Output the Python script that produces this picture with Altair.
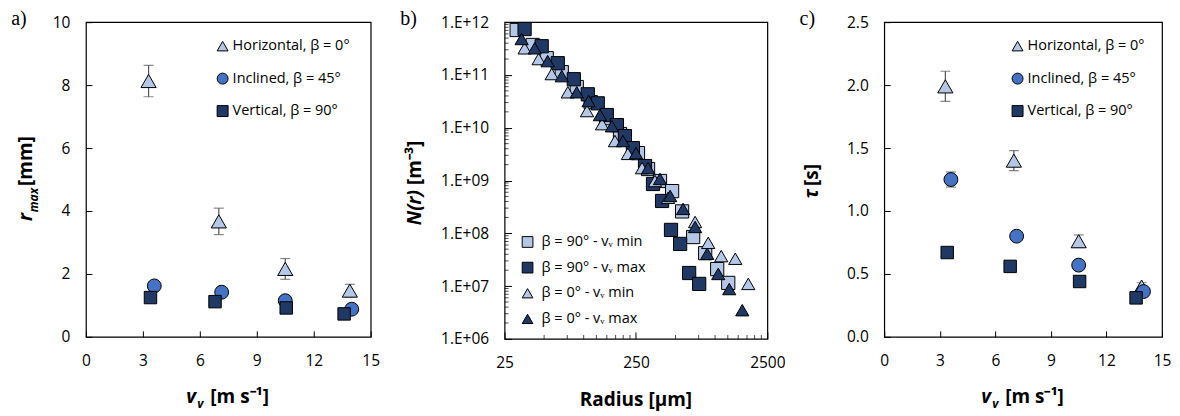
import altair as alt
import pandas as pd

FONT = "Open Sans"
SERIF = "Liberation Serif"

# ---------------- panels a) and c) ----------------
series_ac = ["Horizontal, β = 0°", "Inclined, β = 45°", "Vertical, β = 90°"]
fill_ac = ["#b4c7e7", "#4472c4", "#1f3864"]
shape_ac = ["triangle-up", "circle", "square"]
size_ac = [230, 155, 155]

vv_horizontal = [3.3, 7.0, 10.5, 13.9]
vv_inclined = [3.6, 7.15, 10.5, 14.0]
vv_vertical = [3.4, 6.8, 10.55, 13.6]

rmax_horizontal = [8.13, 3.67, 2.16, 1.47]
rmax_horizontal_err = [0.50, 0.42, 0.33, 0.20]
rmax_inclined = [1.62, 1.42, 1.15, 0.88]
rmax_inclined_err = [0.04, 0.04, 0.04, 0.04]
rmax_vertical = [1.25, 1.12, 0.92, 0.73]
rmax_vertical_err = [0.03, 0.03, 0.03, 0.03]

tau_horizontal = [1.99, 1.40, 0.76, 0.40]
tau_horizontal_err = [0.12, 0.08, 0.05, 0.03]
tau_inclined = [1.25, 0.80, 0.57, 0.36]
tau_inclined_err = [0.06, 0.02, 0.02, 0.02]
tau_vertical = [0.67, 0.56, 0.44, 0.31]
tau_vertical_err = [0.01, 0.01, 0.01, 0.01]

vv_ticks = [0, 3, 6, 9, 12, 15]
rmax_ticks = [0, 2, 4, 6, 8, 10]
tau_ticks = [0.0, 0.5, 1.0, 1.5, 2.0, 2.5]

# ---------------- panel b) ----------------
series_b = ["β = 90° - vᵥ min", "β = 90° - vᵥ max", "β = 0° - vᵥ min", "β = 0° - vᵥ max"]
fill_b = ["#b4c7e7", "#1f3864", "#b4c7e7", "#1f3864"]
shape_b = ["square", "square", "triangle-up", "triangle-up"]
size_b = [175, 175, 235, 235]

radius_90_min = [30.9, 40.9, 52.3, 68.1, 88.6, 113, 148, 189, 259, 309, 381, 471, 561, 681, 841, 1038, 1260]
n_90_min = [7.1e11, 3.7e11, 2.08e11, 1.13e11, 5.9e10, 3.06e10, 1.52e10, 7.6e9, 3.3e9, 1.65e9, 9.8e8,
            6.3e8, 2.6e8, 8.5e7, 4.2e7, 2.1e7, 1.15e7]
radius_90_max = [35.5, 47.9, 63.5, 84.1, 107.5, 128, 150, 179, 206, 237, 293, 337, 395, 462, 542, 635, 757]
n_90_max = [7.4e11, 3.5e11, 1.67e11, 8.3e10, 4.3e10, 2.9e10, 1.74e10, 1.12e10, 6.95e9, 4.1e9, 1.88e9,
            8.6e8, 4.1e8, 1.16e8, 6.3e7, 1.77e7, 1.1e7]
radius_0_min = [35.5, 45.4, 57.1, 75.7, 106, 138, 173, 217, 278, 349, 439, 705, 887, 1114, 1425, 1790]
n_0_min = [3.2e11, 2.0e11, 1.04e11, 4.7e10, 2.07e10, 1.17e10, 5.6e9, 3.2e9, 1.72e9, 9.8e8, 4.7e8,
           1.64e8, 6.6e7, 3.7e7, 3.3e7, 1.1e7]
radius_0_max = [33.7, 42.4, 53.2, 68.1, 88.6, 109, 133, 164, 199, 250, 309, 381, 455, 571, 705, 871,
                1057, 1282, 1611]
n_0_max = [4.8e11, 3.2e11, 1.83e11, 9.5e10, 4.7e10, 3.2e10, 1.74e10, 1.07e10, 5.6e9, 3.3e9, 1.72e9,
           1.07e9, 5.1e8, 2.9e8, 1.32e8, 4.1e7, 1.7e7, 8.8e6, 3.5e6]

radius_ticks = [25, 250, 2500]
radius_minor_ticks = [50, 75, 100, 125, 150, 175, 200, 225, 500, 750, 1000, 1250, 1500, 1750, 2000, 2250]
n_ticks = [1e6, 1e7, 1e8, 1e9, 1e10, 1e11, 1e12]
n_minor_mult = [2, 3, 4, 5, 6, 7, 8, 9]
n_minor_ticks = [m * d for d in n_ticks[:-1] for m in n_minor_mult]


# ---------------- helpers ----------------
def frame_ac(vals, errs):
    rows = []
    xs = [vv_horizontal, vv_inclined, vv_vertical]
    for s, x, v, e in zip(series_ac, xs, vals, errs):
        for xi, vi, ei in zip(x, v, e):
            rows.append({"series": s, "vv": xi, "val": vi, "lo": vi - ei, "hi": vi + ei})
    return pd.DataFrame(rows)


def label(text, x, y, size=19, weight="bold", style="normal", angle=0, align="center",
          baseline="alphabetic", font=FONT):
    return alt.Chart(pd.DataFrame({"t": [text]})).mark_text(
        font=font, fontSize=size, fontWeight=weight, fontStyle=style, angle=angle,
        align=align, baseline=baseline, color="black"
    ).encode(x=alt.value(x), y=alt.value(y), text="t:N")


def axis(values, pad, tick=6, fmt=None, expr=None):
    kw = dict(values=values, title=None, grid=False, domain=False, ticks=True, tickSize=tick,
              offset=-tick, labelPadding=pad, labelFont=FONT, labelFontSize=15.5,
              labelColor="black", tickColor="black", tickWidth=1, labelFlush=False,
              labelOverlap=False)
    if fmt:
        kw["format"] = fmt
    if expr:
        kw["labelExpr"] = expr
    return alt.Axis(**kw)


def manual_legend(series, fills, shapes, sym_x, y_first, y_last, label_x, sym_size=120):
    df = pd.DataFrame({"series": series})
    ysc = alt.Scale(domain=series, range=[y_first, y_last], padding=0)
    sym = alt.Chart(df).mark_point(filled=True, stroke="black", strokeWidth=1, opacity=1,
                                   size=sym_size).encode(
        x=alt.value(sym_x),
        y=alt.Y("series:N", scale=ysc, axis=None),
        fill=alt.Fill("series:N", scale=alt.Scale(domain=series, range=fills), legend=None),
        shape=alt.Shape("series:N", scale=alt.Scale(domain=series, range=shapes), legend=None),
    )
    txt = alt.Chart(df).mark_text(align="left", baseline="middle", font=FONT, fontSize=14.5,
                                  color="black").encode(
        x=alt.value(label_x),
        y=alt.Y("series:N", scale=ysc, axis=None),
        text="series:N",
    )
    return alt.layer(sym, txt)


def panel_ac(df, ydom, yticks, yfmt, w, h, tag, tag_x, ytitle_pieces):
    xsc = alt.Scale(domain=[0, 15], nice=False, zero=False)
    ysc = alt.Scale(domain=ydom, nice=False, zero=False)
    xax = axis(vv_ticks, 17)
    yax = axis(yticks, 16, fmt=yfmt)
    err = alt.Chart(df).mark_errorbar(ticks=True, size=10, thickness=1.2, color="#555555").encode(
        x=alt.X("vv:Q", scale=xsc, axis=xax),
        y=alt.Y("lo:Q", scale=ysc, axis=yax),
        y2="hi:Q",
    )
    pts = alt.Chart(df).mark_point(filled=True, stroke="black", strokeWidth=1, opacity=1).encode(
        x=alt.X("vv:Q", scale=xsc, axis=xax),
        y=alt.Y("val:Q", scale=ysc, axis=yax),
        fill=alt.Fill("series:N", scale=alt.Scale(domain=series_ac, range=fill_ac), legend=None),
        shape=alt.Shape("series:N", scale=alt.Scale(domain=series_ac, range=shape_ac), legend=None),
        size=alt.Size("series:N", scale=alt.Scale(domain=series_ac, range=size_ac), legend=None),
    )
    cx = w / 2
    texts = [
        label(tag, tag_x, -3, size=20, weight="normal", font=SERIF, baseline="middle"),
        label("v", cx - 42, h + 66, style="italic", align="left"),
        label("v", cx - 31, h + 71, size=12, style="italic", align="left"),
        label("[m s⁻¹]", cx - 18, h + 66, align="left"),
    ] + ytitle_pieces
    data_layer = alt.layer(err, pts, *texts)
    leg = manual_legend(series_ac, fill_ac, shape_ac, 0.48 * w, 24, 89, 0.48 * w + 10)
    return alt.layer(data_layer, leg).resolve_scale(
        y="independent", fill="independent", shape="independent"
    ).properties(width=w, height=h)


# ---------------- panel a ----------------
df_a = frame_ac([rmax_horizontal, rmax_inclined, rmax_vertical],
                [rmax_horizontal_err, rmax_inclined_err, rmax_vertical_err])
panel_a = panel_ac(
    df_a, [0, 10], rmax_ticks, "d", 285, 315, "a)", -67,
    [
        label("[mm]", -60, 164, angle=270, align="left", baseline="middle"),
        label("max", -52, 166, size=12, style="italic", angle=270, align="right", baseline="middle"),
        label("r", -60, 191, style="italic", angle=270, align="right", baseline="middle"),
    ],
)

# ---------------- panel c ----------------
df_c = frame_ac([tau_horizontal, tau_inclined, tau_vertical],
                [tau_horizontal_err, tau_inclined_err, tau_vertical_err])
panel_c = panel_ac(
    df_c, [0, 2.5], tau_ticks, ".1f", 278, 315, "c)", -77,
    [
        label("[s]", -72, 164, angle=270, align="left", baseline="middle"),
        label("τ", -72, 167, style="italic", angle=270, align="right", baseline="middle"),
    ],
)

# ---------------- panel b ----------------
rows_b = []
for s, rs, ns in zip(series_b, [radius_90_min, radius_90_max, radius_0_min, radius_0_max],
                     [n_90_min, n_90_max, n_0_min, n_0_max]):
    for r, n in zip(rs, ns):
        rows_b.append({"series": s, "radius": r, "N": n})
df_b = pd.DataFrame(rows_b)

wb, hb = 263, 317
xsc_b = alt.Scale(type="log", domain=[25, 2500], nice=False)
ysc_b = alt.Scale(type="log", domain=[1e6, 1e12], nice=False)
y_expr = ("'1.E+' + (round(log(datum.value)/LN10) < 10 ? '0' : '') + "
          "round(log(datum.value)/LN10)")
yax_b = axis(n_ticks, 16, tick=7, expr=y_expr)
xax_b = axis(radius_ticks, 17, tick=7, fmt="d")
pts_b = alt.Chart(df_b).mark_point(filled=True, stroke="black", strokeWidth=1, opacity=1).encode(
    x=alt.X("radius:Q", scale=xsc_b, axis=xax_b),
    y=alt.Y("N:Q", scale=ysc_b, axis=yax_b),
    fill=alt.Fill("series:N", scale=alt.Scale(domain=series_b, range=fill_b), legend=None),
    shape=alt.Shape("series:N", scale=alt.Scale(domain=series_b, range=shape_b), legend=None),
    size=alt.Size("series:N", scale=alt.Scale(domain=series_b, range=size_b), legend=None),
)
minor_y = alt.Chart(pd.DataFrame({"v": n_minor_ticks})).mark_tick(
    orient="horizontal", color="black", thickness=1, size=4
).encode(y=alt.Y("v:Q", scale=ysc_b, axis=yax_b), x=alt.value(2))
minor_x = alt.Chart(pd.DataFrame({"v": radius_minor_ticks})).mark_tick(
    orient="vertical", color="black", thickness=1, size=4
).encode(x=alt.X("v:Q", scale=xsc_b, axis=xax_b), y=alt.value(hb - 2))

data_b = alt.layer(
    minor_y, minor_x, pts_b,
    label("b)", -96, -3, size=20, weight="normal", font=SERIF, baseline="middle"),
    label("[m⁻³]", -90, 163, angle=270, align="left", baseline="middle"),
    label("N(r)", -90, 168, style="italic", angle=270, align="right", baseline="middle"),
    label("Radius [µm]", wb / 2, hb + 67),
)
leg_b = manual_legend(series_b, fill_b, shape_b, 23, 220, 297, 37, sym_size=115)
panel_b = alt.layer(data_b, leg_b).resolve_scale(
    y="independent", fill="independent", shape="independent"
).properties(width=wb, height=hb)

inner = alt.hconcat(panel_b, panel_c, spacing=117, bounds="flush").resolve_scale(
    fill="independent", shape="independent", size="independent")
chart = alt.hconcat(panel_a, inner, spacing=134, bounds="flush").resolve_scale(
    fill="independent", shape="independent", size="independent"
).properties(
    padding={"left": 2, "top": 0, "right": 0, "bottom": 0}, background="white"
).configure_view(stroke="black", strokeWidth=1.2)

chart.save("out.html", embed_options={"renderer": "svg", "actions": False})
